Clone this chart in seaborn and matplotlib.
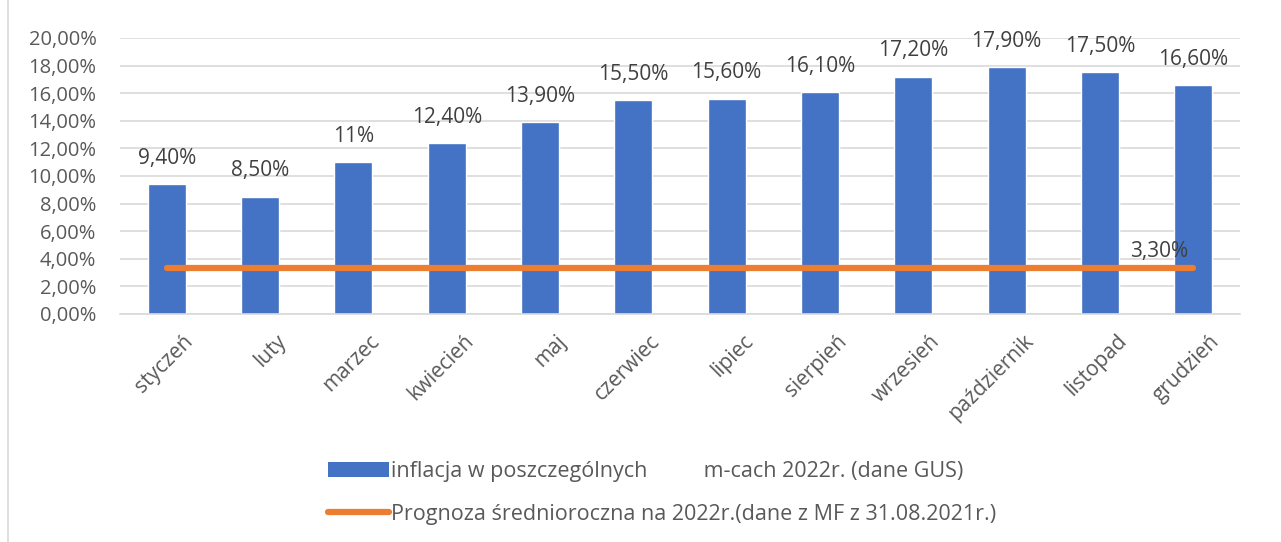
import numpy as np
import pandas as pd
import matplotlib
matplotlib.use("Agg")
import matplotlib.pyplot as plt
from matplotlib.patches import Patch, Rectangle
from matplotlib.lines import Line2D
from matplotlib.ticker import FuncFormatter
from matplotlib.transforms import ScaledTranslation
import seaborn as sns

miesiace = ["styczeń", "luty", "marzec", "kwiecień", "maj", "czerwiec",
            "lipiec", "sierpień", "wrzesień", "październik", "listopad", "grudzień"]
inflacja = [9.4, 8.5, 11.0, 12.4, 13.9, 15.5, 15.6, 16.1, 17.2, 17.9, 17.5, 16.6]
etykiety = ["9,40%", "8,50%", "11%", "12,40%", "13,90%", "15,50%",
            "15,60%", "16,10%", "17,20%", "17,90%", "17,50%", "16,60%"]
prognoza = [3.3] * 12
prognoza_etykieta = "3,30%"

seria_1 = "inflacja w poszczególnych          m-cach 2022r. (dane GUS)"
seria_2 = "Prognoza średnioroczna na 2022r.(dane z MF z 31.08.2021r.)"

NIEBIESKI = "#4472c4"
POMARANCZ = "#ed7d31"
SZARY = "#595959"

sns.set_theme(style="white")
plt.rcParams["font.family"] = ["Open Sans", "DejaVu Sans"]

df = pd.DataFrame({"miesiac": miesiace, "inflacja": inflacja, "prognoza": prognoza})

fig = plt.figure(figsize=(12.81, 5.42), dpi=100)
ax = fig.add_axes([0.0937, 0.4207, 0.8743, 0.5093])

sns.barplot(data=df, x="miesiac", y="inflacja", color=NIEBIESKI, width=0.41,
            saturation=1, ax=ax, zorder=2)
x_pos = np.arange(len(miesiace))
ax.plot(x_pos, df["prognoza"], color=POMARANCZ, linewidth=4.5,
        solid_capstyle="round", zorder=3)

for x, v, lab in zip(x_pos, inflacja, etykiety):
    ax.text(x, v + 1.1, lab, ha="center", va="bottom", fontsize=15, color="#404040")
ax.text(x_pos[-1] - 0.37, prognoza[-1] + 0.45, prognoza_etykieta, ha="center",
        va="bottom", fontsize=15, color="#404040", zorder=4)

ax.set_ylim(0, 20)
ax.set_xlim(-0.5, len(miesiace) - 0.5)
ax.set_yticks(np.arange(0, 21, 2))
ax.yaxis.set_major_formatter(FuncFormatter(lambda v, p: f"{v:.2f}%".replace(".", ",")))
ax.grid(axis="y", color="#d9d9d9", linewidth=1.2, zorder=0)
ax.set_axisbelow(True)
for s in ["top", "right", "left"]:
    ax.spines[s].set_visible(False)
ax.spines["bottom"].set_color("#d9d9d9")
ax.spines["bottom"].set_linewidth(1.2)
ax.set_xlabel("")
ax.set_ylabel("")
ax.tick_params(axis="y", labelsize=14.5, colors=SZARY, length=0, pad=17)
ax.tick_params(axis="x", labelsize=15, colors=SZARY, length=0, pad=12)
przesun = ScaledTranslation(0.16, 0, fig.dpi_scale_trans)
for t in ax.get_xticklabels():
    t.set_rotation(45)
    t.set_ha("right")
    t.set_rotation_mode("anchor")
    t.set_transform(t.get_transform() + przesun)

uchwyty = [Patch(facecolor=NIEBIESKI, edgecolor="none"),
           Line2D([0], [0], color=POMARANCZ, linewidth=4.5, solid_capstyle="round")]
fig.legend(uchwyty, [seria_1, seria_2], loc="upper center",
           bbox_to_anchor=(0.517, 0.165), frameon=False, fontsize=15.5,
           labelcolor=SZARY, handlelength=2.8, handletextpad=0.1,
           labelspacing=1.0, borderaxespad=0)

fig.patches.append(Rectangle((0.006, -0.01), 1.2, 1.2, transform=fig.transFigure,
                             fill=False, edgecolor="#d9d9d9", linewidth=1.2))

fig.savefig("out.png", dpi=100)
